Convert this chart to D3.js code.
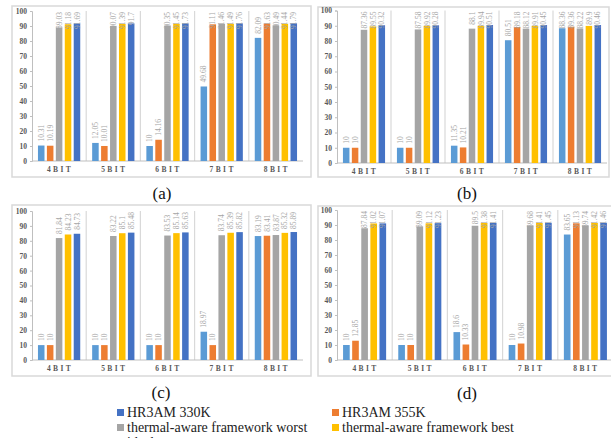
<!DOCTYPE html>
<html>
<head>
<meta charset="utf-8">
<script src="https://cdn.jsdelivr.net/npm/d3@7"></script>
<style>
  html, body { margin: 0; padding: 0; background: #fff; }
  svg { display: block; }
  svg text { font-family: "Liberation Serif", "DejaVu Serif", serif; }
</style>
</head>
<body>
<div id="chart"></div>
<script>
const width = 611, height = 438;
const serif = "'Liberation Serif', 'DejaVu Serif', serif";

// categories and series
const categories = ["4BIT", "5BIT", "6BIT", "7BIT", "8BIT"];
const seriesNames = ["HR3AM 330K", "HR3AM 355K", "thermal-aware framework worst", "thermal-aware framework best", "ideal"];
const barColors = ["#5b9bd5", "#ed7d31", "#a5a5a5", "#ffc000", "#4472c4"];
const yTicks = [0, 10, 20, 30, 40, 50, 60, 70, 80, 90, 100];

// values per panel, one row per category (series order as above)
const valuesA = [
    [10.31, 10.19, 89.03, 91.18, 91.69],
    [12.05, 10.01, 90.07, 91.39, 91.7],
    [10, 14.16, 90.35, 91.45, 91.73],
    [49.68, 91.11, 91.46, 91.49, 91.76],
    [82.09, 91.63, 90.49, 91.44, 91.79]
];
const valuesB = [
    [10, 10, 87.36, 89.55, 90.32],
    [10, 10, 87.58, 89.92, 90.28],
    [11.35, 10.21, 88.1, 89.94, 90.51],
    [80.51, 89.18, 88.12, 89.91, 90.45],
    [88.36, 89.36, 88.22, 89.9, 90.46]
];
const valuesC = [
    [10, 10, 81.84, 84.23, 84.73],
    [10, 10, 83.22, 85.1, 85.48],
    [10, 10, 83.53, 85.14, 85.63],
    [18.97, 10, 83.74, 85.39, 85.82],
    [83.19, 83.41, 83.87, 85.32, 85.89]
];
const valuesD = [
    [10, 12.85, 87.84, 91.02, 91.07],
    [10, 10, 89.09, 91.12, 91.23],
    [18.6, 10.33, 89.5, 91.38, 91.41],
    [10, 10.98, 89.68, 91.41, 91.45],
    [83.65, 91.13, 89.74, 91.42, 91.46]
];

// legend entries as laid out (two columns, row by row)
const legendLabels = ["HR3AM 330K", "HR3AM 355K", "thermal-aware framework worst", "thermal-aware framework best", "ideal"];
const legendColors = ["#4472c4", "#ed7d31", "#a5a5a5", "#ffc000", "#5b9bd5"];

const svg = d3.select("#chart").append("svg")
    .attr("width", width).attr("height", height);

// panel layout
const panels = [
    { data: valuesA, caption: "(a)", box: [12, 6, 311, 177], x: [32, 303], y: [161, 11], catY: 172, cap: [162, 199] },
    { data: valuesB, caption: "(b)", box: [318, 7, 609, 177], x: [337, 607], y: [163, 10.5], catY: 174, cap: [467, 199] },
    { data: valuesC, caption: "(c)", box: [12, 205, 311, 376], x: [32, 303], y: [360, 211], catY: 371, cap: [161, 398] },
    { data: valuesD, caption: "(d)", box: [318, 206, 614, 376], x: [337, 613], y: [360, 210], catY: 371, cap: [467, 399] }
];

panels.forEach(p => drawPanel(p));

function drawPanel(p) {
    const g = svg.append("g");

    // frame
    g.append("rect")
        .attr("x", p.box[0]).attr("y", p.box[1])
        .attr("width", p.box[2] - p.box[0]).attr("height", p.box[3] - p.box[1])
        .attr("fill", "#fff").attr("stroke", "#d9d9d9").attr("stroke-width", 1.5);

    const y = d3.scaleLinear().domain([0, 100]).range(p.y);
    const x0 = d3.scaleBand().domain(categories).range(p.x).padding(0);
    const bw = x0.bandwidth();
    const x1 = d3.scaleBand().domain(d3.range(5)).range([bw * 0.11, bw * 0.89]).paddingInner(0.27);

    // category separators
    g.selectAll(".sep")
        .data(categories.slice(1))
        .enter().append("line")
        .attr("x1", d => x0(d)).attr("x2", d => x0(d))
        .attr("y1", p.y[1]).attr("y2", p.y[0])
        .attr("stroke", "#d9d9d9").attr("stroke-width", 1.2);

    // y axis
    const yAxis = g.append("g")
        .attr("transform", `translate(${p.x[0]},0)`)
        .call(d3.axisLeft(y).tickValues(yTicks).tickSize(2).tickPadding(3));
    yAxis.attr("font-family", null);
    yAxis.select(".domain").attr("stroke", "#bfbfbf");
    yAxis.selectAll(".tick line").attr("stroke", "#bfbfbf");
    yAxis.selectAll("text")
        .attr("fill", "#595959")
        .style("font-size", "7.5px").style("font-weight", "bold")
        .style("font-family", serif);

    // x baseline
    g.append("line")
        .attr("x1", p.x[0]).attr("x2", p.x[1])
        .attr("y1", p.y[0]).attr("y2", p.y[0])
        .attr("stroke", "#bfbfbf").attr("stroke-width", 1);

    // category labels
    g.selectAll(".cat")
        .data(categories)
        .enter().append("text")
        .attr("x", d => x0(d) + bw / 2 + 1)
        .attr("y", p.catY)
        .attr("text-anchor", "middle")
        .attr("fill", "#595959")
        .style("font-family", serif)
        .style("font-size", "7.5px").style("font-weight", "bold")
        .style("letter-spacing", "2.4px")
        .text(d => d);

    // bars
    const groups = g.selectAll(".grp")
        .data(p.data)
        .enter().append("g")
        .attr("transform", (d, i) => `translate(${x0(categories[i])},0)`);

    groups.selectAll("rect")
        .data(d => d)
        .enter().append("rect")
        .attr("x", (d, i) => x1(i))
        .attr("y", d => y(d))
        .attr("width", x1.bandwidth())
        .attr("height", d => y(0) - y(d))
        .attr("fill", (d, i) => barColors[i]);

    // value labels (rotated)
    groups.selectAll("text")
        .data(d => d)
        .enter().append("text")
        .attr("fill", "#a6a6a6")
        .style("font-family", serif)
        .style("font-size", "7.5px")
        .text(d => d)
        .each(function (d, i) {
            const len = this.getComputedTextLength();
            let bottom = y(d) - 4;
            if (bottom - len < p.y[1] + 1) bottom = p.y[1] + 1 + len;
            const cx = x1(i) + x1.bandwidth() / 2 + 2.6;
            d3.select(this).attr("transform", `translate(${cx},${bottom}) rotate(-90)`);
        });

    // caption
    svg.append("text")
        .attr("x", p.cap[0]).attr("y", p.cap[1])
        .attr("text-anchor", "middle")
        .attr("fill", "#111")
        .style("font-family", serif)
        .style("font-size", "17px")
        .text(p.caption);
}

// legend
const legendCols = [117, 332];
const legendRows = [417, 432, 447];
const legend = svg.append("g");
legendLabels.forEach((label, k) => {
    const col = k % 2, row = Math.floor(k / 2);
    const lx = legendCols[col], ly = legendRows[row];
    legend.append("rect")
        .attr("x", lx).attr("y", ly - 8)
        .attr("width", 7).attr("height", 7)
        .attr("fill", legendColors[k]);
    legend.append("text")
        .attr("x", lx + 10).attr("y", ly)
        .attr("fill", "#222")
        .style("font-family", serif)
        .style("font-size", "14px")
        .text(label);
});
</script>
</body>
</html>
